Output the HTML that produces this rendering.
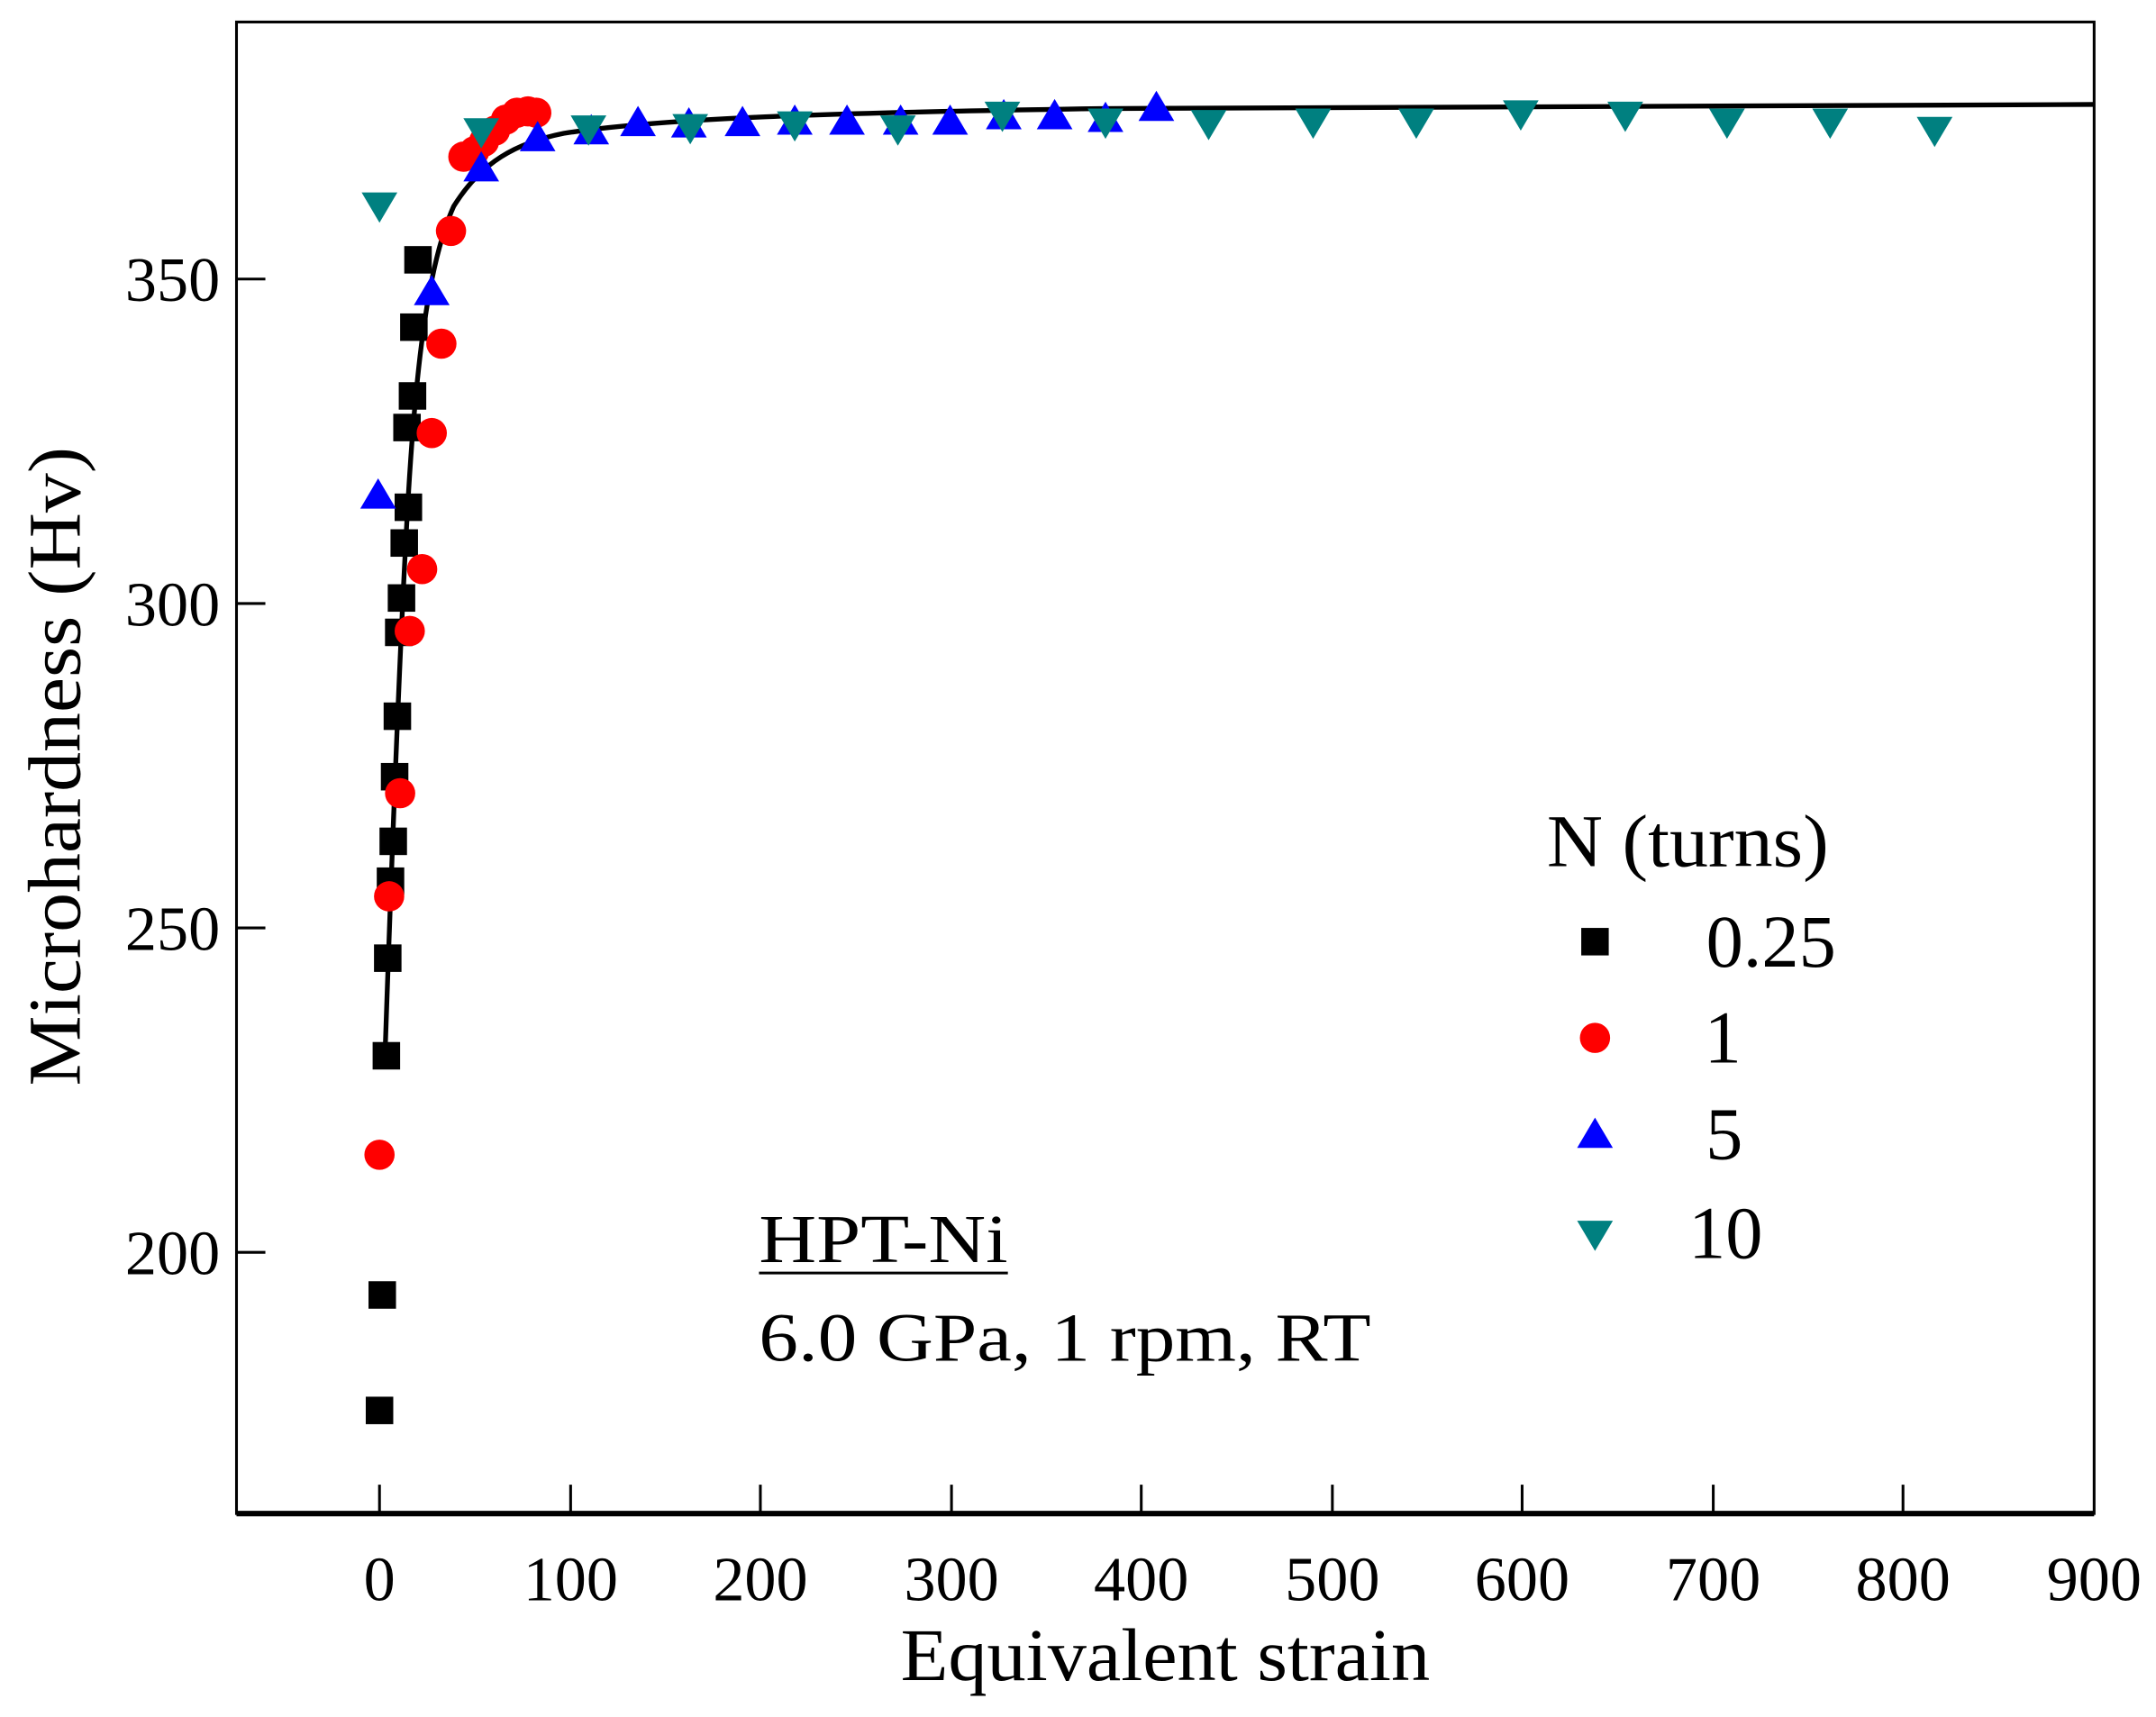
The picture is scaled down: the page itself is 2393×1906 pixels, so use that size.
<!DOCTYPE html>
<html><head><meta charset="utf-8"><style>html,body{margin:0;padding:0;background:#fff}svg{display:block}</style></head>
<body>
<svg width="2393" height="1906" viewBox="0 0 1568 1249" preserveAspectRatio="none" xmlns="http://www.w3.org/2000/svg" font-family="Liberation Serif, serif">
<defs>
<rect id="s" x="-10" y="-10" width="20" height="20" fill="#000"/>
<circle id="c" r="11" fill="#f00"/>
<polygon id="u" points="0,-12 13,10 -13,10" fill="#00f"/>
<polygon id="d" points="0,12 13,-10 -13,-10" fill="#008080"/>
</defs>
<rect x="172" y="16" width="1351" height="1085" fill="none" stroke="#000" stroke-width="2"/>
<line x1="172" y1="1101" x2="1523" y2="1101" stroke="#000" stroke-width="4"/>
<g stroke="#000" stroke-width="2">
<line x1="172" y1="203" x2="193" y2="203"/><line x1="172" y1="439" x2="193" y2="439"/><line x1="172" y1="675" x2="193" y2="675"/><line x1="172" y1="911" x2="193" y2="911"/>
<line x1="276" y1="1101" x2="276" y2="1080"/><line x1="415" y1="1101" x2="415" y2="1080"/><line x1="553" y1="1101" x2="553" y2="1080"/><line x1="692" y1="1101" x2="692" y2="1080"/><line x1="830" y1="1101" x2="830" y2="1080"/><line x1="969" y1="1101" x2="969" y2="1080"/><line x1="1107" y1="1101" x2="1107" y2="1080"/><line x1="1246" y1="1101" x2="1246" y2="1080"/><line x1="1384" y1="1101" x2="1384" y2="1080"/>
</g>
<g font-size="46" text-anchor="end">
<text x="160" y="219">350</text><text x="160" y="455">300</text><text x="160" y="691">250</text><text x="160" y="927">200</text>
</g>
<g font-size="46" text-anchor="middle">
<text x="276" y="1164">0</text><text x="415" y="1164">100</text><text x="553" y="1164">200</text><text x="692" y="1164">300</text><text x="830" y="1164">400</text><text x="969" y="1164">500</text><text x="1107" y="1164">600</text><text x="1246" y="1164">700</text><text x="1384" y="1164">800</text><text x="1523" y="1164">900</text>
</g>
<text x="655" y="1222" font-size="54" textLength="385" lengthAdjust="spacingAndGlyphs">Equivalent strain</text>
<text transform="translate(58,790) rotate(-90)" font-size="54" textLength="465" lengthAdjust="spacingAndGlyphs">Microhardness (Hv)</text>
<path d="M280,768 C284,650 290,480 297,360 C303,260 312,190 330,150 C350,118 375,104 410,97 C480,86 600,82 800,79 L1523,76" fill="none" stroke="#000" stroke-width="3.5"/>
<g>
<use href="#s" x="276" y="1026"/><use href="#s" x="278" y="942"/><use href="#s" x="281" y="768"/><use href="#s" x="282" y="697"/><use href="#s" x="284" y="641"/><use href="#s" x="286" y="612"/><use href="#s" x="287" y="565"/><use href="#s" x="289" y="521"/><use href="#s" x="290" y="460"/><use href="#s" x="292" y="435"/><use href="#s" x="294" y="395"/><use href="#s" x="297" y="369"/><use href="#s" x="296" y="311"/><use href="#s" x="300" y="288"/><use href="#s" x="301" y="238"/><use href="#s" x="304" y="189"/>
<use href="#c" x="276" y="840"/><use href="#c" x="283" y="652"/><use href="#c" x="291" y="577"/><use href="#c" x="298" y="459"/><use href="#c" x="307" y="414"/><use href="#c" x="314" y="315"/><use href="#c" x="321" y="250"/><use href="#c" x="328" y="168"/><use href="#c" x="337" y="114"/><use href="#c" x="345" y="110"/><use href="#c" x="352" y="103"/><use href="#c" x="360" y="95"/><use href="#c" x="368" y="87"/><use href="#c" x="376" y="82"/><use href="#c" x="384" y="81"/><use href="#c" x="390" y="82"/>
<use href="#u" x="275" y="360"/><use href="#u" x="314" y="212"/><use href="#u" x="350" y="122"/><use href="#u" x="391" y="100"/><use href="#u" x="430" y="95"/><use href="#u" x="464" y="89"/><use href="#u" x="501" y="90"/><use href="#u" x="540" y="89"/><use href="#u" x="578" y="88"/><use href="#u" x="616" y="88"/><use href="#u" x="655" y="88"/><use href="#u" x="691" y="88"/><use href="#u" x="730" y="84"/><use href="#u" x="767" y="84"/><use href="#u" x="804" y="86"/><use href="#u" x="841" y="78"/>
<use href="#d" x="276" y="150"/><use href="#d" x="350" y="96"/><use href="#d" x="428" y="94"/><use href="#d" x="502" y="93"/><use href="#d" x="578" y="91"/><use href="#d" x="653" y="94"/><use href="#d" x="729" y="84"/><use href="#d" x="804" y="89"/><use href="#d" x="879" y="90"/><use href="#d" x="955" y="89"/><use href="#d" x="1030" y="89"/><use href="#d" x="1106" y="83"/><use href="#d" x="1182" y="84"/><use href="#d" x="1256" y="89"/><use href="#d" x="1331" y="89"/><use href="#d" x="1407" y="95"/>
</g>
<text x="1125" y="630" font-size="54" textLength="205" lengthAdjust="spacingAndGlyphs">N (turns)</text>
<use href="#s" x="1160" y="685"/><use href="#c" x="1160" y="755"/><use href="#u" x="1160" y="825"/><use href="#d" x="1160" y="898"/>
<g font-size="54" text-anchor="middle">
<text x="1288" y="703">0.25</text><text x="1253" y="773">1</text><text x="1254" y="843">5</text><text x="1255" y="915">10</text>
</g>
<text x="552" y="918" font-size="50" textLength="181" lengthAdjust="spacingAndGlyphs">HPT-Ni</text>
<line x1="552" y1="926" x2="733" y2="926" stroke="#000" stroke-width="2"/>
<text x="552" y="990" font-size="50" textLength="445" lengthAdjust="spacingAndGlyphs">6.0 GPa, 1 rpm, RT</text>
</svg>
</body></html>
